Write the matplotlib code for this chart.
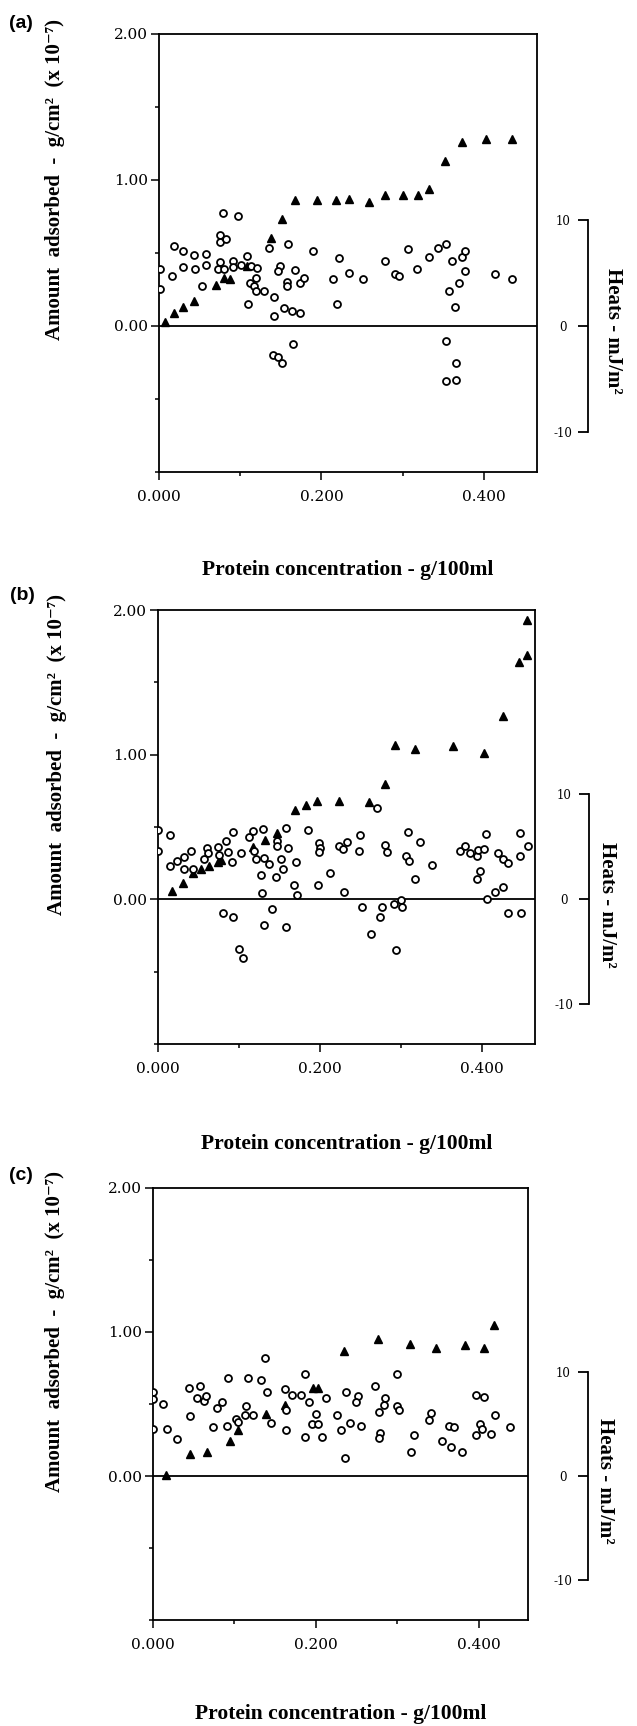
import matplotlib
matplotlib.use('Agg')
import matplotlib.pyplot as plt
import matplotlib.transforms as mtransforms
from matplotlib.ticker import FixedLocator

plt.rcParams['font.family'] = ['DejaVu Serif']

# ---- panel (a) ----
tri_x_a = [0.008, 0.018, 0.029, 0.043, 0.070, 0.080, 0.087, 0.108, 0.138, 0.152, 0.167, 0.195,
           0.218, 0.234, 0.258, 0.278, 0.301, 0.319, 0.332, 0.352, 0.373, 0.402, 0.435]
tri_y_a = [0.03, 0.09, 0.13, 0.17, 0.28, 0.33, 0.32, 0.41, 0.60, 0.73, 0.86, 0.86,
           0.86, 0.87, 0.85, 0.90, 0.90, 0.90, 0.94, 1.13, 1.26, 1.28, 1.28]
circ_x_a = [0.001, 0.001, 0.016, 0.018, 0.029, 0.030, 0.043, 0.044, 0.053, 0.058, 0.058, 0.075,
            0.075, 0.075, 0.073, 0.079, 0.082, 0.080, 0.091, 0.091, 0.097, 0.101, 0.108, 0.113,
            0.121, 0.112, 0.120, 0.117, 0.120, 0.129, 0.110, 0.136, 0.141, 0.141, 0.149, 0.146,
            0.159, 0.157, 0.158, 0.154, 0.164, 0.174, 0.167, 0.173, 0.179, 0.190, 0.214, 0.222,
            0.219, 0.234, 0.140, 0.146, 0.152, 0.165, 0.251, 0.278, 0.290, 0.295, 0.307, 0.318,
            0.332, 0.344, 0.353, 0.361, 0.357, 0.365, 0.369, 0.373, 0.377, 0.377, 0.414, 0.435,
            0.353, 0.366, 0.353, 0.366]
heat_a = [5.4, 3.5, 4.7, 7.6, 5.6, 7.1, 6.7, 5.4, 3.8, 6.8, 5.8, 8.6,
          7.9, 6.0, 5.4, 10.7, 8.2, 5.4, 6.1, 5.6, 10.4, 5.8, 6.6, 5.7,
          5.5, 4.1, 4.5, 3.8, 3.3, 3.3, 2.1, 7.4, 2.7, 0.9, 5.7, 5.2,
          7.7, 4.2, 3.8, 1.7, 1.4, 1.2, 5.3, 4.1, 4.5, 7.1, 4.4, 6.4,
          2.1, 5.0, -2.7, -2.9, -3.5, -1.7, 4.4, 6.1, 4.9, 4.7, 7.3, 5.4,
          6.5, 7.4, 7.7, 6.1, 3.3, 1.8, 4.1, 6.5, 7.1, 5.2, 4.9, 4.4,
          -1.4, -3.5, -5.2, -5.1]

# ---- panel (b) ----
tri_x_b = [0.017, 0.030, 0.043, 0.053, 0.063, 0.074, 0.078, 0.117, 0.132, 0.147, 0.169, 0.183,
           0.196, 0.223, 0.261, 0.281, 0.293, 0.318, 0.365, 0.403, 0.426, 0.446, 0.456, 0.456]
tri_y_b = [0.06, 0.11, 0.18, 0.21, 0.23, 0.26, 0.27, 0.36, 0.41, 0.46, 0.62, 0.65,
           0.68, 0.68, 0.67, 0.80, 1.07, 1.04, 1.06, 1.01, 1.27, 1.64, 1.69, 1.93]
circ_x_b = [0.000, 0.000, 0.015, 0.014, 0.023, 0.032, 0.032, 0.041, 0.043, 0.060, 0.061, 0.057,
            0.074, 0.075, 0.084, 0.086, 0.091, 0.093, 0.102, 0.112, 0.117, 0.130, 0.119, 0.121,
            0.131, 0.137, 0.127, 0.128, 0.147, 0.147, 0.160, 0.158, 0.152, 0.154, 0.145, 0.170,
            0.168, 0.172, 0.185, 0.199, 0.200, 0.199, 0.197, 0.213, 0.223, 0.229, 0.234, 0.230,
            0.080, 0.092, 0.100, 0.105, 0.131, 0.141, 0.158,
            0.250, 0.248, 0.271, 0.281, 0.283, 0.309, 0.307, 0.310, 0.324, 0.318, 0.339,
            0.252, 0.277, 0.274, 0.263, 0.294, 0.292, 0.300, 0.301,
            0.373, 0.379, 0.385, 0.394, 0.395, 0.403, 0.405, 0.398, 0.394, 0.420, 0.427, 0.432,
            0.407, 0.416, 0.427, 0.447, 0.447, 0.457, 0.432, 0.449]
heat_b = [6.6, 4.6, 6.1, 3.2, 3.7, 4.0, 2.9, 4.6, 2.9, 4.9, 4.4, 3.8,
          5.0, 4.2, 5.6, 4.5, 3.6, 6.4, 4.4, 5.9, 6.5, 6.7, 4.6, 3.8,
          3.9, 3.4, 2.3, 0.6, 5.6, 5.1, 4.9, 6.8, 3.8, 2.9, 2.1, 3.6,
          1.4, 0.4, 6.6, 5.4, 4.9, 4.5, 1.4, 2.5, 5.1, 4.8, 5.5, 0.7,
          -1.3, -1.7, -4.7, -5.6, -2.4, -0.9, -2.6,
          6.1, 4.6, 8.7, 5.2, 4.5, 6.4, 4.1, 3.7, 5.5, 1.9, 3.3,
          -0.7, -0.7, -1.7, -3.3, -4.8, -0.4, -0.1, -0.7,
          4.6, 5.1, 4.4, 4.1, 4.7, 4.8, 6.2, 2.7, 1.9, 4.4, 3.8, 3.5,
          0.0, 0.7, 1.2, 6.3, 4.1, 5.1, -1.3, -1.3]

# ---- panel (c) ----
tri_x_c = [0.016, 0.045, 0.066, 0.094, 0.104, 0.139, 0.162, 0.196, 0.202, 0.235, 0.276, 0.316,
           0.348, 0.383, 0.406, 0.419]
tri_y_c = [0.01, 0.15, 0.17, 0.24, 0.32, 0.43, 0.49, 0.61, 0.61, 0.87, 0.95, 0.92,
           0.89, 0.91, 0.89, 1.05]
circ_x_c = [0.000, 0.000, 0.000, 0.012, 0.017, 0.030, 0.044, 0.045, 0.058, 0.054, 0.062, 0.065,
            0.074, 0.079, 0.085, 0.092, 0.091, 0.102, 0.104, 0.113, 0.114, 0.123, 0.117, 0.132,
            0.137, 0.140, 0.145, 0.162, 0.163, 0.163, 0.171, 0.182, 0.187, 0.192, 0.187, 0.200,
            0.195, 0.202, 0.207, 0.212, 0.226, 0.231, 0.236, 0.237,
            0.242, 0.252, 0.249, 0.255, 0.272, 0.277, 0.279, 0.277, 0.285, 0.283, 0.299, 0.299,
            0.302, 0.320, 0.317, 0.341, 0.339, 0.355, 0.363, 0.369, 0.366, 0.379, 0.396, 0.406,
            0.401, 0.404, 0.397, 0.415, 0.420, 0.438]
heat_c = [8.0, 7.4, 4.5, 6.9, 4.5, 3.5, 8.4, 5.7, 8.6, 7.5, 7.2, 7.7,
          4.7, 6.5, 7.1, 9.4, 4.8, 5.5, 5.2, 5.8, 6.7, 5.8, 9.4, 9.2,
          11.3, 8.0, 5.1, 8.3, 6.3, 4.4, 7.8, 7.8, 9.8, 7.1, 3.7, 5.9,
          5.0, 5.0, 3.7, 7.5, 5.8, 4.4, 1.7, 8.0,
          5.1, 7.7, 7.1, 4.8, 8.6, 6.1, 4.1, 3.6, 7.5, 6.8, 9.8, 6.7,
          6.3, 3.9, 2.3, 6.0, 5.4, 3.4, 4.8, 4.7, 2.8, 2.3, 7.8, 7.6,
          5.0, 4.5, 3.9, 4.0, 5.8, 4.7]

RATIO = 0.0725   # left-axis units per heat unit (mJ/m2)
LABEL_FONT = ['Liberation Serif', 'DejaVu Serif']


def draw_panel(fig, rect, tri_x, tri_y, circ_x, heat, xmax, heat_spine, heat_lab_x, amt_lab_x, conc_lab_y):
    ax = fig.add_axes(rect)
    ax.set_xlim(0, xmax)
    ax.set_ylim(-1.0, 2.0)
    for s in ax.spines.values():
        s.set_linewidth(1.3)
    ax.axhline(0, color='black', lw=1.3, zorder=1)
    ax.plot(tri_x, tri_y, ls='none', marker='^', ms=6.3, color='black', zorder=3)

    ax.set_xticks([0, 0.2, 0.4])
    ax.set_xticklabels(['0.000', '0.200', '0.400'])
    ax.xaxis.set_minor_locator(FixedLocator([0.1, 0.3]))
    ax.set_yticks([0, 1, 2])
    ax.set_yticklabels(['0.00', '1.00', '2.00'])
    ax.yaxis.set_minor_locator(FixedLocator([-1.0, -0.5, 0.5, 1.5]))
    ax.tick_params(which='major', direction='out', length=6, width=1.1, labelsize=11, pad=2)
    ax.tick_params(axis='x', which='major', pad=7)
    ax.tick_params(which='minor', direction='out', length=3, width=1.1)

    ax.set_xlabel('Protein concentration - g/100ml', fontsize=15.5, fontweight='bold',
                  family=LABEL_FONT, va='center')
    ax.xaxis.set_label_coords(0.5, conc_lab_y)
    ax.set_ylabel('Amount  adsorbed  -  g/cm²  (x 10⁻⁷)', fontsize=15, fontweight='bold',
                  family=LABEL_FONT, va='center')
    ax.yaxis.set_label_coords(amt_lab_x, 1.0,
                              transform=mtransforms.blended_transform_factory(ax.transAxes, ax.transData))

    # heats on a bracket axis to the right
    ax2 = ax.twinx()
    ax2.set_ylim(-1.0 / RATIO, 2.0 / RATIO)
    ax2.plot(circ_x, heat, ls='none', marker='o', ms=5.0, mfc='white', mec='black', mew=1.3, zorder=4)
    for side in ['top', 'bottom', 'right']:
        ax2.spines[side].set_visible(False)
    ax2.spines['left'].set_position(('axes', heat_spine))
    ax2.spines['left'].set_bounds(-10, 10)
    ax2.spines['left'].set_linewidth(1.3)
    ax2.yaxis.set_ticks_position('left')
    ax2.set_yticks([-10, 0, 10])
    ax2.set_yticklabels(['-10', '0', '10'])
    ax2.tick_params(axis='y', direction='out', length=7, width=1.3, labelsize=8.5, pad=11)
    for lab in ax2.get_yticklabels():
        lab.set_horizontalalignment('center')
    ax2.set_ylabel('Heats - mJ/m²', fontsize=15, fontweight='bold', family=LABEL_FONT,
                   rotation=270, va='center')
    ax2.yaxis.set_label_position('right')
    ax2.yaxis.set_label_coords(heat_lab_x, -0.5,
                               transform=mtransforms.blended_transform_factory(ax2.transAxes, ax2.transData))
    return ax, ax2


fig = plt.figure(figsize=(6.37, 17.26), dpi=100)

draw_panel(fig, [0.2496, 0.72654, 0.5929, 0.25377], tri_x_a, tri_y_a, circ_x_a, heat_a,
           0.465, 1.136, 1.228, -0.275, -0.224)
draw_panel(fig, [0.2485, 0.39513, 0.5914, 0.25145], tri_x_b, tri_y_b, circ_x_b, heat_b,
           0.466, 1.143, 1.218, -0.269, -0.230)
draw_panel(fig, [0.2402, 0.06141, 0.5882, 0.2503], tri_x_c, tri_y_c, circ_x_c, heat_c,
           0.460, 1.161, 1.233, -0.262, -0.218)

for tag, (px, py) in zip(['(a)', '(b)', '(c)'], [(20.5, 23.5), (22, 595), (21, 1175)]):
    fig.text(px / 637, 1 - py / 1726, tag, fontsize=14, fontweight='bold',
             family='Liberation Sans', ha='center', va='center')

fig.savefig('out.png', dpi=100)
